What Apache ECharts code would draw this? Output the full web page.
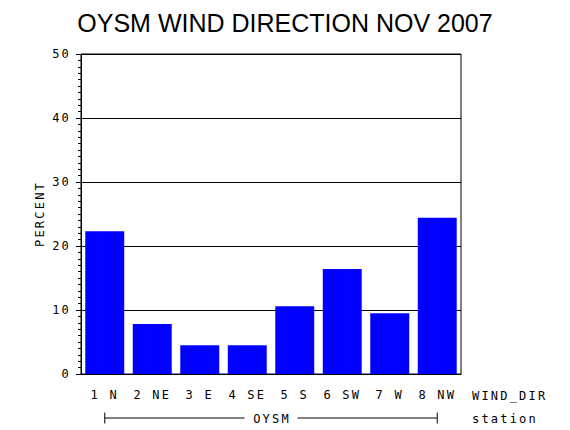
<!DOCTYPE html>
<html><head><meta charset="utf-8">
<script src="https://cdn.jsdelivr.net/npm/echarts@6/dist/echarts.min.js"></script>
<style>
html,body{margin:0;padding:0;background:#fff}
#c{width:570px;height:430px}
#c text[style*="Mono"], #c text[font-family*="Mono"]{letter-spacing:2.2px}
</style>
</head><body><div id="c"></div>
<script>
const title = "OYSM WIND DIRECTION NOV 2007";
const categories = ["1 N","2 NE","3 E","4 SE","5 S","6 SW","7 W","8 NW"];
const percentValues = [22.3, 7.8, 4.5, 4.5, 10.6, 16.4, 9.5, 24.4];
const yTicks = [0, 10, 20, 30, 40, 50];
const stationName = "OYSM";

const chart = echarts.init(document.getElementById('c'), null, {renderer:'svg'});
const tfont = "'Liberation Sans', Arial, sans-serif";
const mfont = "'DejaVu Sans Mono', monospace";
chart.setOption({
  animation:false,
  backgroundColor:'#fff',
  title:{text:title,left:'center',top:5,textStyle:{fontFamily:tfont,fontWeight:'normal',fontSize:25,color:'#000'}},
  grid:{left:81,right:109,top:54,bottom:56,show:true,borderColor:'#000',borderWidth:1,backgroundColor:'transparent'},
  xAxis:{type:'category',data:categories,
    axisLine:{lineStyle:{color:'#000',width:1}},
    axisTick:{show:false},
    axisLabel:{color:'#000',fontFamily:mfont,fontSize:12,margin:15,interval:0}},
  yAxis:{type:'value',min:yTicks[0],max:yTicks[yTicks.length-1],interval:10,
    name:'PERCENT',nameLocation:'middle',nameGap:32,nameRotate:90,
    nameTextStyle:{color:'#000',fontFamily:mfont,fontSize:12},
    axisLine:{show:true,lineStyle:{color:'#000',width:1}},
    axisTick:{show:true,length:5,lineStyle:{color:'#000'}},
    minorTick:{show:true,splitNumber:10,length:3,lineStyle:{color:'#000'}},
    splitLine:{show:true,lineStyle:{color:'#000',width:1}},
    axisLabel:{color:'#000',fontFamily:mfont,fontSize:12,margin:10}},
  series:[{type:'bar',data:percentValues,barCategoryGap:'18%',itemStyle:{color:'#0000ff'}}]
});
const x0 = chart.convertToPixel({xAxisIndex:0}, categories[0]);
const x1 = chart.convertToPixel({xAxisIndex:0}, categories[categories.length-1]);
const xm = (x0 + x1) / 2;
const yb = 418;
const gap = 26.5;
chart.setOption({graphic:[
  {type:'line',shape:{x1:x0,y1:yb,x2:xm-gap,y2:yb},style:{stroke:'#000',lineWidth:1}},
  {type:'line',shape:{x1:xm+gap,y1:yb,x2:x1,y2:yb},style:{stroke:'#000',lineWidth:1}},
  {type:'line',shape:{x1:x0,y1:yb-5.5,x2:x0,y2:yb+5.5},style:{stroke:'#000',lineWidth:1}},
  {type:'line',shape:{x1:x1,y1:yb-5.5,x2:x1,y2:yb+5.5},style:{stroke:'#000',lineWidth:1}},
  {type:'text',x:xm+1,y:yb+1,style:{text:stationName,fill:'#000',font:'12px '+mfont,textAlign:'center',textVerticalAlign:'middle'}},
  {type:'text',x:472,y:395.5,style:{text:'WIND_DIR',fill:'#000',font:'12px '+mfont,textAlign:'left',textVerticalAlign:'middle'}},
  {type:'text',x:472,y:418.5,style:{text:'station',fill:'#000',font:'12px '+mfont,textAlign:'left',textVerticalAlign:'middle'}}
]});
</script></body></html>
